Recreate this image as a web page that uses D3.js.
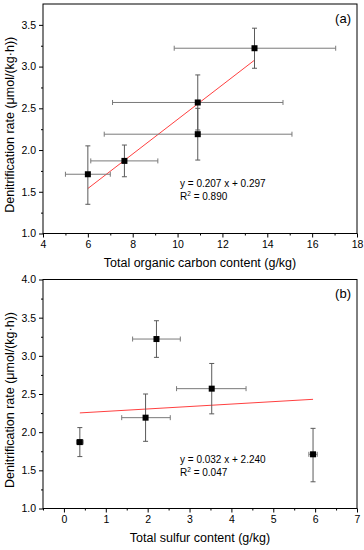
<!DOCTYPE html>
<html><head><meta charset="utf-8">
<script src="https://cdn.jsdelivr.net/npm/d3@7"></script>
<style>body{margin:0;background:#fff}svg{display:block}text{font-family:"Liberation Sans",Arial,sans-serif}</style>
</head><body><svg id="c" width="364" height="550"></svg>
<script>
// Panel (a): total organic carbon
const tocX = [6.0, 7.63, 10.9, 10.9, 13.43];
const tocXerrLo = [5.0, 6.13, 6.73, 7.1, 9.85];
const tocXerrHi = [7.0, 9.12, 15.1, 14.7, 17.05];
// Panel (b): total sulfur
const tsX = [5.95, 0.38, 1.95, 3.53, 2.21];
const tsXerrLo = [5.85, 0.3, 1.38, 2.69, 1.64];
const tsXerrHi = [6.05, 0.46, 2.54, 4.35, 2.78];
// Shared response: denitrification rate
const rate = [1.71, 1.87, 2.19, 2.57, 3.22];
const rateErrLo = [1.35, 1.68, 1.88, 2.24, 2.98];
const rateErrHi = [2.05, 2.06, 2.50, 2.90, 3.46];
// Fits
const fitA = {slope: 0.207, intercept: 0.297, eq: "y = 0.207 x + 0.297", r2: "0.890"};
const fitB = {slope: 0.032, intercept: 2.240, eq: "y = 0.032 x + 2.240", r2: "0.047"};
const xTicksA = [4, 6, 8, 10, 12, 14, 16, 18];
const xTicksB = [0, 1, 2, 3, 4, 5, 6, 7];
const yTicksA = [1.0, 1.5, 2.0, 2.5, 3.0, 3.5];
const yTicksB = [1.0, 1.5, 2.0, 2.5, 3.0, 3.5, 4.0];

const svg = d3.select("#c");

function panel(o) {
  const g = svg.append("g");
  const x = d3.scaleLinear().domain(o.xDomain).range([o.left, o.right]);
  const y = d3.scaleLinear().domain(o.yDomain).range([o.bottom, o.top]);
  // minor ticks
  const xAxisMinor = d3.axisBottom(x).tickValues(o.xMinor).tickSize(2).tickFormat("");
  g.append("g").attr("transform", `translate(0,${o.bottom})`).call(xAxisMinor).call(s => s.select(".domain").remove());
  const yAxisMinor = d3.axisLeft(y).tickValues(o.yMinor).tickSize(2).tickFormat("");
  g.append("g").attr("transform", `translate(${o.left},0)`).call(yAxisMinor).call(s => s.select(".domain").remove());
  // major axes
  const xa = g.append("g").attr("transform", `translate(0,${o.bottom})`)
    .call(d3.axisBottom(x).tickValues(o.xTicks).tickSize(4).tickPadding(3).tickFormat(d3.format("d")));
  const ya = g.append("g").attr("transform", `translate(${o.left},0)`)
    .call(d3.axisLeft(y).tickValues(o.yTicks).tickSize(4).tickPadding(3).tickFormat(d3.format(".1f")));
  [xa, ya].forEach(a => {
    a.selectAll(".domain").remove();
    a.selectAll("text").attr("font-size", 10.5).attr("fill", "#000").attr("font-family", "Liberation Sans, Arial, sans-serif");
  });
  g.selectAll(".tick line").attr("stroke", "#000");
  // frame
  g.append("rect").attr("x", o.left).attr("y", o.top).attr("width", o.right - o.left).attr("height", o.bottom - o.top)
    .attr("fill", "none").attr("stroke", "#000").attr("stroke-width", 1);
  // fit line
  const xs = o.xs;
  const x0 = d3.min(xs), x1 = d3.max(xs);
  g.append("line").attr("x1", x(x0)).attr("y1", y(o.fit.slope * x0 + o.fit.intercept))
    .attr("x2", x(x1)).attr("y2", y(o.fit.slope * x1 + o.fit.intercept))
    .attr("stroke", "#ff4040").attr("stroke-width", 1);
  // error bars
  const cap = 2.5;
  const idx = d3.range(xs.length);
  idx.forEach(i => {
    const cx = x(xs[i]), cy = y(rate[i]);
    const xl = x(o.xlo[i]), xh = x(o.xhi[i]);
    const yl = y(rateErrLo[i]), yh = y(rateErrHi[i]);
    const ch = "#7a7a7a", cv = "#5a5a5a";
    g.append("line").attr("x1", xl).attr("x2", xh).attr("y1", cy).attr("y2", cy).attr("stroke", ch).attr("stroke-width", 1);
    g.append("line").attr("x1", xl).attr("x2", xl).attr("y1", cy - cap).attr("y2", cy + cap).attr("stroke", ch);
    g.append("line").attr("x1", xh).attr("x2", xh).attr("y1", cy - cap).attr("y2", cy + cap).attr("stroke", ch);
    g.append("line").attr("x1", cx).attr("x2", cx).attr("y1", yl).attr("y2", yh).attr("stroke", cv).attr("stroke-width", 1);
    g.append("line").attr("x1", cx - cap).attr("x2", cx + cap).attr("y1", yl).attr("y2", yl).attr("stroke", cv);
    g.append("line").attr("x1", cx - cap).attr("x2", cx + cap).attr("y1", yh).attr("y2", yh).attr("stroke", cv);
  });
  // markers
  g.selectAll("rect.pt").data(idx).join("rect").attr("class", "pt")
    .attr("x", i => x(xs[i]) - 3).attr("y", i => y(rate[i]) - 3).attr("width", 6).attr("height", 6).attr("fill", "#000");
  // annotations
  g.append("text").attr("x", o.right - 6).attr("y", o.top + 18.5).attr("text-anchor", "end").attr("font-size", 13).text(o.tag);
  const ann = g.append("text").attr("x", o.annX).attr("y", o.annY).attr("font-size", 10);
  ann.text(o.fit.eq);
  const r = g.append("text").attr("x", o.annX).attr("y", o.annY + 13.5).attr("font-size", 10);
  r.append("tspan").text("R");
  r.append("tspan").attr("font-size", 6.5).attr("dy", -4).text("2");
  r.append("tspan").attr("dy", 4).text(" = " + o.fit.r2);
  // axis labels
  g.append("text").attr("x", (o.left + o.right) / 2).attr("y", o.bottom + 33).attr("text-anchor", "middle")
    .attr("font-size", 12.5).text(o.xLabel);
  g.append("text").attr("transform", `translate(14,${(o.top + o.bottom) / 2 + 6}) rotate(-90)`).attr("text-anchor", "middle")
    .attr("font-size", 12.5).text("Denitrification rate (μmol/(kg·h))");
}

panel({
  left: 43, right: 357, top: 4, bottom: 233.5,
  xDomain: [4, 18], yDomain: [1.0, 3.75],
  xTicks: xTicksA, yTicks: yTicksA,
  xMinor: [5, 7, 9, 11, 13, 15, 17], yMinor: [1.25, 1.75, 2.25, 2.75, 3.25],
  xs: tocX, xlo: tocXerrLo, xhi: tocXerrHi, fit: fitA, tag: "(a)",
  annX: 180, annY: 186.5, xLabel: "Total organic carbon content (g/kg)"
});
panel({
  left: 43, right: 357, top: 279.5, bottom: 508.5,
  xDomain: [-0.5, 7], yDomain: [1.0, 4.0],
  xTicks: xTicksB, yTicks: yTicksB,
  xMinor: [-0.5, 0.5, 1.5, 2.5, 3.5, 4.5, 5.5, 6.5], yMinor: [1.25, 1.75, 2.25, 2.75, 3.25, 3.75],
  xs: tsX, xlo: tsXerrLo, xhi: tsXerrHi, fit: fitB, tag: "(b)",
  annX: 180, annY: 462.5, xLabel: "Total sulfur content (g/kg)"
});
</script></body></html>
